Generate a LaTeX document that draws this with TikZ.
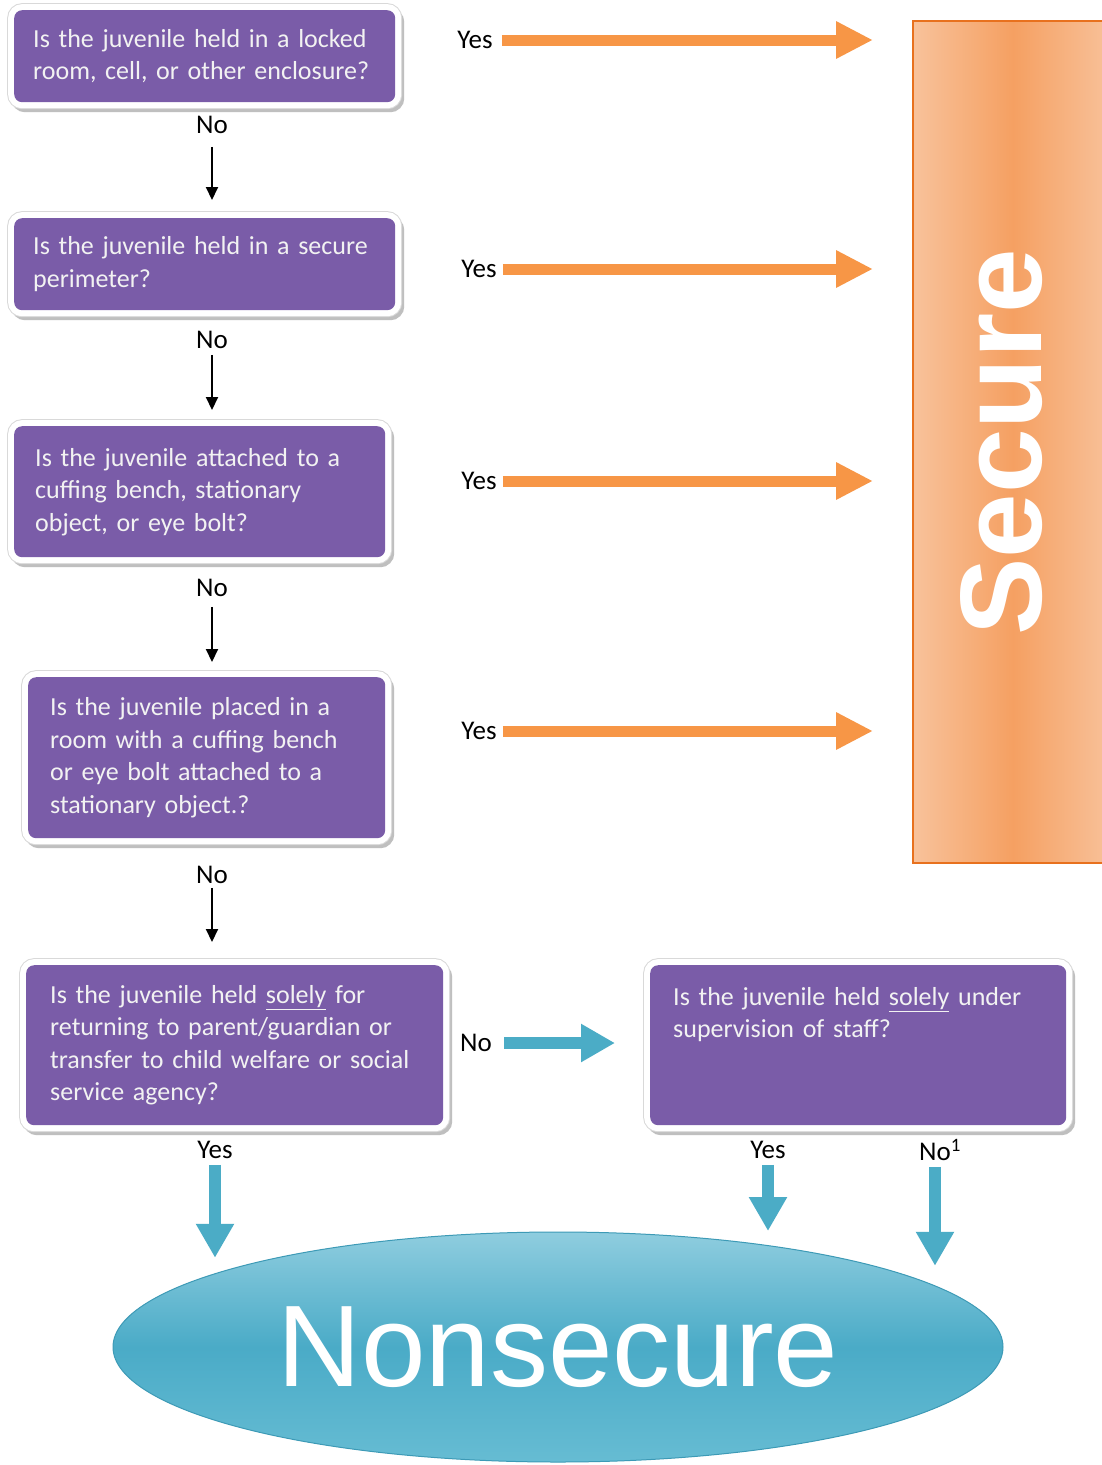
\documentclass[tikz,border=0pt]{standalone}
\usepackage{fontspec}
\usepackage{graphicx}
\setmainfont{Carlito}
\newfontfamily\arialfont{Liberation Sans}
\usetikzlibrary{arrows.meta,shapes.geometric}
\definecolor{qpurple}{HTML}{7A5CA8}
\definecolor{orarr}{HTML}{F79646}
\definecolor{secL}{HTML}{F8C29B}
\definecolor{secD}{HTML}{F5A062}
\definecolor{secB}{HTML}{E8711E}
\definecolor{bluearr}{HTML}{4BACC6}
\definecolor{ellT}{HTML}{8FCDDF}
\definecolor{ellM}{HTML}{4AABC7}
\definecolor{ellB}{HTML}{66BCD3}
\definecolor{ellE}{HTML}{3D9AB6}
\begin{document}
\begin{tikzpicture}[x=1pt,y=-1pt,
 qbox/.style={rectangle, rounded corners=8pt, fill=qpurple, text=white!95!black, align=left,
   inner ysep=0pt, anchor=north west, font=\fontsize{26}{32.5}\selectfont,
   preaction={draw=black!25, line width=12pt, transform canvas={shift={(3pt,-4pt)}}},
   preaction={draw=black!15, line width=14pt},
   preaction={draw=white, line width=12pt}},
 lbl/.style={font=\fontsize{27}{30}\selectfont, inner sep=2pt},
 noarrow/.style={draw=black, line width=2pt, -{Triangle[length=13pt,width=12pt]}},
 orarrow/.style={draw=orarr, line width=11pt, -{Triangle[length=37pt,width=35pt]}},
 blarrow/.style={draw=bluearr, line width=12pt, -{Triangle[length=34pt,width=36pt]}},
]
\fill[white] (0,0) rectangle (1101,1465);
\useasboundingbox (0,0) rectangle (1101,1465);

% Secure block
\node[rectangle, anchor=north west, minimum width=200pt, minimum height=842pt, inner sep=0pt,
  left color=secL, right color=secL, middle color=secD, draw=secB, line width=2pt,
  label={[text=white, font=\arialfont\bfseries\fontsize{116}{120}\selectfont, xshift=-11pt]center:\rotatebox{90}{Secure}}]
  (secure) at (912,20) {};

% Nonsecure ellipse
\node[ellipse, minimum width=890pt, minimum height=230pt, inner sep=0pt,
  top color=ellT, bottom color=ellB, middle color=ellM, draw=ellE, line width=1pt,
  text=white, font=\arialfont\fontsize{116}{120}\selectfont] (nonsec) at (558,1347) {Nonsecure};

% Question boxes
\node[qbox, minimum width=381pt, minimum height=92pt, text width=343pt, inner xsep=19pt] (b1) at (14,10)
  {Is the juvenile held in a locked\\room, cell, or other enclosure?};
\node[qbox, minimum width=381pt, minimum height=92pt, text width=343pt, inner xsep=19pt] (b2) at (14,218)
  {Is the juvenile held in a secure\\perimeter?};
\node[qbox, minimum width=371pt, minimum height=131pt, text width=329pt, inner xsep=21pt] (b3) at (14,426)
  {Is the juvenile attached to a\\cuffing bench, stationary\\object, or eye bolt?};
\node[qbox, minimum width=357pt, minimum height=161pt, text width=313pt, inner xsep=22pt] (b4) at (28,677)
  {Is the juvenile placed in a\\room with a cuffing bench\\or eye bolt attached to a\\stationary object.?};
\node[qbox, minimum width=417pt, minimum height=160pt, text width=369pt, inner xsep=24pt] (b5) at (26,965)
  {Is the juvenile held \underline{solely} for\\returning to parent/guardian or\\transfer to child welfare or social\\service agency?};
\node[qbox, minimum width=416pt, minimum height=160pt, text width=370pt, inner xsep=23pt] (b6) at (650,965)
  {Is the juvenile held \underline{solely} under\\supervision of staff?\\\mbox{}\\\mbox{}};

% Labels
\node[lbl] (yes1) at (475,40) {Yes};
\node[lbl] (yes2) at (479,269) {Yes};
\node[lbl] (yes3) at (479,481) {Yes};
\node[lbl] (yes4) at (479,731) {Yes};
\node[lbl] (no1) at (212,125) {No};
\node[lbl] (no2) at (212,340) {No};
\node[lbl] (no3) at (212,588) {No};
\node[lbl] (no4) at (212,875) {No};
\node[lbl] (no5) at (476,1043) {No};
\node[lbl] (yes5) at (215,1150) {Yes};
\node[lbl] (yes6) at (768,1150) {Yes};
\node[lbl] (no6) at (940,1150) {No\textsuperscript{1}};

% No connectors (black)
\draw[noarrow, shorten <=11pt, shorten >=18pt] (no1.south) -- (no1.south |- b2.north);
\draw[noarrow, shorten <=4pt, shorten >=16pt] (no2.south) -- (no2.south |- b3.north);
\draw[noarrow, shorten <=8pt, shorten >=15pt] (no3.south) -- (no3.south |- b4.north);
\draw[noarrow, shorten <=2pt, shorten >=23pt] (no4.south) -- (no4.south |- b5.north);

% Yes connectors (orange)
\draw[orarrow, shorten <=7pt, shorten >=39pt] (yes1.east) -- (yes1.east -| secure.west);
\draw[orarrow, shorten <=4pt, shorten >=39pt] (yes2.east) -- (yes2.east -| secure.west);
\draw[orarrow, shorten <=4pt, shorten >=39pt] (yes3.east) -- (yes3.east -| secure.west);
\draw[orarrow, shorten <=4pt, shorten >=39pt] (yes4.east) -- (yes4.east -| secure.west);

% Blue connectors
\draw[blarrow, shorten <=10pt, shorten >=35pt] (no5.east) -- (no5.east -| b6.west);
\draw[blarrow, shorten <=4pt, shorten >=16pt] (yes5.south) -- (yes5.south |- nonsec.168);
\draw[blarrow, shorten <=4pt, shorten >=14pt] (yes6.south) -- (yes6.south |- nonsec.26);
\draw[blarrow, shorten <=4pt, shorten >=21pt] ([xshift=-5pt]no6.south) -- ([xshift=-5pt]no6.south |- nonsec.9);
\end{tikzpicture}
\end{document}
